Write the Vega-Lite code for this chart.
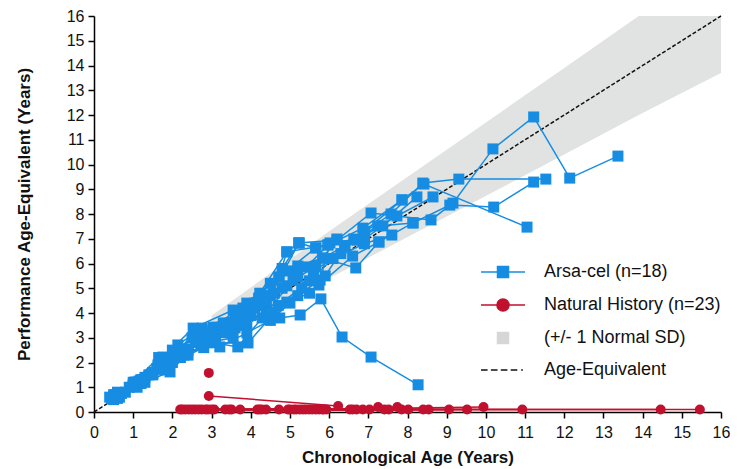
{
  "$schema": "https://vega.github.io/schema/vega-lite/v6.json",
  "width": 627,
  "height": 396,
  "autosize": {"type": "none"},
  "padding": {"left": 94, "top": 16, "right": 35, "bottom": 57},
  "background": "white",
  "config": {"view": {"stroke": null}, "font": "Liberation Sans"},
  "datasets": {
    "band": [
      {"x": 3, "y": 2.9, "hi": 3.9},
      {"x": 6, "y": 5.4, "hi": 7.3},
      {"x": 9, "y": 7.9, "hi": 10.6},
      {"x": 12, "y": 10.4, "hi": 13.9},
      {"x": 13.9, "y": 12.0, "hi": 16},
      {"x": 16, "y": 13.7, "hi": 16}
    ],
    "ref": [{"x": 0, "y": 0}, {"x": 16, "y": 16}],
    "legend": [
      {"series": "Arsa-cel (n=18)"},
      {"series": "Natural History (n=23)"},
      {"series": "(+/- 1 Normal SD)"},
      {"series": "Age-Equivalent"}
    ],
    "nh": [
      {"p": 1, "x": 2.93, "y": 1.58},
      {"p": 2, "x": 2.93, "y": 0.65}, {"p": 2, "x": 6.23, "y": 0.24},
      {"p": 3, "x": 2.25, "y": 0.1}, {"p": 3, "x": 4.72, "y": 0.1}, {"p": 3, "x": 15.46, "y": 0.1},
      {"p": 4, "x": 2.42, "y": 0.1}, {"p": 4, "x": 5.0, "y": 0.1}, {"p": 4, "x": 14.46, "y": 0.1},
      {"p": 5, "x": 2.58, "y": 0.1}, {"p": 5, "x": 5.16, "y": 0.1}, {"p": 5, "x": 10.93, "y": 0.1},
      {"p": 6, "x": 2.75, "y": 0.1}, {"p": 6, "x": 5.33, "y": 0.1}, {"p": 6, "x": 9.94, "y": 0.2},
      {"p": 7, "x": 2.91, "y": 0.1}, {"p": 7, "x": 5.49, "y": 0.1}, {"p": 7, "x": 9.52, "y": 0.1},
      {"p": 8, "x": 3.07, "y": 0.1}, {"p": 8, "x": 5.66, "y": 0.1}, {"p": 8, "x": 9.06, "y": 0.1},
      {"p": 9, "x": 3.35, "y": 0.1}, {"p": 9, "x": 5.82, "y": 0.1}, {"p": 9, "x": 8.54, "y": 0.1},
      {"p": 10, "x": 3.51, "y": 0.1}, {"p": 10, "x": 5.93, "y": 0.1}, {"p": 10, "x": 8.4, "y": 0.1},
      {"p": 11, "x": 3.73, "y": 0.1}, {"p": 11, "x": 6.53, "y": 0.1}, {"p": 11, "x": 8.02, "y": 0.1},
      {"p": 12, "x": 4.17, "y": 0.1}, {"p": 12, "x": 6.7, "y": 0.1}, {"p": 12, "x": 7.85, "y": 0.1},
      {"p": 13, "x": 4.28, "y": 0.1}, {"p": 13, "x": 6.86, "y": 0.1}, {"p": 13, "x": 7.74, "y": 0.2},
      {"p": 14, "x": 4.39, "y": 0.1}, {"p": 14, "x": 7.03, "y": 0.1}, {"p": 14, "x": 7.52, "y": 0.1},
      {"p": 15, "x": 7.25, "y": 0.2}, {"p": 15, "x": 7.41, "y": 0.1},
      {"p": 16, "x": 2.33, "y": 0.1}, {"p": 16, "x": 2.85, "y": 0.1},
      {"p": 17, "x": 2.5, "y": 0.1}, {"p": 17, "x": 3.0, "y": 0.1},
      {"p": 18, "x": 2.67, "y": 0.1}, {"p": 18, "x": 4.95, "y": 0.1},
      {"p": 19, "x": 5.1, "y": 0.1}, {"p": 19, "x": 5.25, "y": 0.1},
      {"p": 20, "x": 5.4, "y": 0.1}, {"p": 20, "x": 5.57, "y": 0.1},
      {"p": 21, "x": 5.74, "y": 0.1}, {"p": 21, "x": 6.6, "y": 0.1},
      {"p": 22, "x": 2.2, "y": 0.1}, {"p": 22, "x": 3.45, "y": 0.1},
      {"p": 23, "x": 4.22, "y": 0.1}, {"p": 23, "x": 5.86, "y": 0.1}
    ],
    "arsa": [
      {"p": 1, "x": 0.5, "y": 0.55}, {"p": 1, "x": 1.0, "y": 1.05}, {"p": 1, "x": 1.6, "y": 1.75}, {"p": 1, "x": 2.3, "y": 2.55}, {"p": 1, "x": 3.04, "y": 3.43}, {"p": 1, "x": 3.9, "y": 4.4}, {"p": 1, "x": 4.72, "y": 5.45}, {"p": 1, "x": 5.66, "y": 6.63}, {"p": 1, "x": 6.63, "y": 6.99}, {"p": 1, "x": 7.58, "y": 8.0}, {"p": 1, "x": 8.39, "y": 9.25}, {"p": 1, "x": 9.31, "y": 9.41}, {"p": 1, "x": 11.53, "y": 9.41},
      {"p": 2, "x": 0.55, "y": 0.7}, {"p": 2, "x": 1.1, "y": 1.2}, {"p": 2, "x": 1.76, "y": 2.22}, {"p": 2, "x": 2.53, "y": 3.39}, {"p": 2, "x": 3.55, "y": 4.12}, {"p": 2, "x": 4.23, "y": 4.8}, {"p": 2, "x": 4.92, "y": 6.47}, {"p": 2, "x": 5.97, "y": 6.75}, {"p": 2, "x": 6.86, "y": 7.43}, {"p": 2, "x": 7.86, "y": 8.57}, {"p": 2, "x": 8.42, "y": 9.21}, {"p": 2, "x": 11.05, "y": 7.47},
      {"p": 3, "x": 0.6, "y": 0.8}, {"p": 3, "x": 1.25, "y": 1.3}, {"p": 3, "x": 2.14, "y": 2.71}, {"p": 3, "x": 2.76, "y": 3.39}, {"p": 3, "x": 3.6, "y": 3.9}, {"p": 3, "x": 4.5, "y": 4.7}, {"p": 3, "x": 5.23, "y": 6.83}, {"p": 3, "x": 6.2, "y": 6.95}, {"p": 3, "x": 7.07, "y": 8.04}, {"p": 3, "x": 8.6, "y": 7.76}, {"p": 3, "x": 9.16, "y": 8.44}, {"p": 3, "x": 10.18, "y": 10.63}, {"p": 3, "x": 11.22, "y": 11.92}, {"p": 3, "x": 12.14, "y": 9.45}, {"p": 3, "x": 13.37, "y": 10.34},
      {"p": 4, "x": 0.65, "y": 0.6}, {"p": 4, "x": 1.3, "y": 1.4}, {"p": 4, "x": 2.0, "y": 2.1}, {"p": 4, "x": 2.9, "y": 3.0}, {"p": 4, "x": 3.7, "y": 3.8}, {"p": 4, "x": 4.6, "y": 4.8}, {"p": 4, "x": 5.43, "y": 5.86}, {"p": 4, "x": 6.4, "y": 6.71}, {"p": 4, "x": 7.24, "y": 7.52}, {"p": 4, "x": 8.14, "y": 7.64}, {"p": 4, "x": 9.08, "y": 8.36}, {"p": 4, "x": 10.2, "y": 8.28}, {"p": 4, "x": 11.22, "y": 9.29},
      {"p": 5, "x": 0.5, "y": 0.5}, {"p": 5, "x": 1.05, "y": 1.21}, {"p": 5, "x": 1.63, "y": 1.9}, {"p": 5, "x": 2.4, "y": 2.5}, {"p": 5, "x": 3.3, "y": 3.2}, {"p": 5, "x": 4.0, "y": 3.9}, {"p": 5, "x": 4.74, "y": 3.8}, {"p": 5, "x": 5.26, "y": 3.92}, {"p": 5, "x": 5.79, "y": 4.57}, {"p": 5, "x": 6.33, "y": 3.03}, {"p": 5, "x": 7.07, "y": 2.22}, {"p": 5, "x": 8.27, "y": 1.1},
      {"p": 6, "x": 0.7, "y": 0.75}, {"p": 6, "x": 1.4, "y": 1.5}, {"p": 6, "x": 2.2, "y": 2.4}, {"p": 6, "x": 3.0, "y": 3.2}, {"p": 6, "x": 3.93, "y": 4.0}, {"p": 6, "x": 4.8, "y": 5.0}, {"p": 6, "x": 5.66, "y": 5.9}, {"p": 6, "x": 6.71, "y": 6.95}, {"p": 6, "x": 7.73, "y": 7.92}, {"p": 6, "x": 8.65, "y": 8.69},
      {"p": 7, "x": 0.9, "y": 1.0}, {"p": 7, "x": 1.5, "y": 1.55}, {"p": 7, "x": 2.3, "y": 2.3}, {"p": 7, "x": 3.1, "y": 2.9}, {"p": 7, "x": 3.9, "y": 3.6}, {"p": 7, "x": 4.7, "y": 4.3}, {"p": 7, "x": 5.5, "y": 5.3}, {"p": 7, "x": 5.84, "y": 6.22}, {"p": 7, "x": 6.68, "y": 5.82}, {"p": 7, "x": 7.27, "y": 6.87}, {"p": 7, "x": 8.14, "y": 7.64},
      {"p": 8, "x": 1.0, "y": 1.1}, {"p": 8, "x": 1.7, "y": 1.9}, {"p": 8, "x": 2.5, "y": 3.0}, {"p": 8, "x": 3.3, "y": 3.6}, {"p": 8, "x": 4.1, "y": 4.2}, {"p": 8, "x": 4.92, "y": 5.1}, {"p": 8, "x": 5.77, "y": 5.33}, {"p": 8, "x": 6.02, "y": 6.83}, {"p": 8, "x": 6.9, "y": 7.0}, {"p": 8, "x": 7.37, "y": 7.52}, {"p": 8, "x": 8.24, "y": 8.69},
      {"p": 9, "x": 0.6, "y": 0.65}, {"p": 9, "x": 1.2, "y": 1.15}, {"p": 9, "x": 1.94, "y": 1.62}, {"p": 9, "x": 2.7, "y": 2.9}, {"p": 9, "x": 3.67, "y": 2.63}, {"p": 9, "x": 4.29, "y": 3.8}, {"p": 9, "x": 5.08, "y": 5.33}, {"p": 9, "x": 5.74, "y": 5.13}, {"p": 9, "x": 6.6, "y": 6.3}, {"p": 9, "x": 7.27, "y": 6.87},
      {"p": 10, "x": 1.5, "y": 1.6}, {"p": 10, "x": 2.2, "y": 2.2}, {"p": 10, "x": 3.0, "y": 2.8}, {"p": 10, "x": 3.93, "y": 2.79}, {"p": 10, "x": 4.6, "y": 4.0}, {"p": 10, "x": 5.3, "y": 5.0}, {"p": 10, "x": 6.1, "y": 6.2}, {"p": 10, "x": 6.9, "y": 6.8}, {"p": 10, "x": 7.6, "y": 7.15},
      {"p": 11, "x": 2.0, "y": 2.5}, {"p": 11, "x": 2.76, "y": 3.1}, {"p": 11, "x": 3.5, "y": 3.6}, {"p": 11, "x": 4.2, "y": 4.6}, {"p": 11, "x": 5.0, "y": 5.7}, {"p": 11, "x": 5.6, "y": 5.7}, {"p": 11, "x": 6.3, "y": 6.4}, {"p": 11, "x": 6.9, "y": 7.3}, {"p": 11, "x": 7.86, "y": 8.57},
      {"p": 12, "x": 0.5, "y": 0.7}, {"p": 12, "x": 1.2, "y": 1.3}, {"p": 12, "x": 1.9, "y": 1.95}, {"p": 12, "x": 2.6, "y": 2.9}, {"p": 12, "x": 3.5, "y": 3.3}, {"p": 12, "x": 4.4, "y": 4.1}, {"p": 12, "x": 4.92, "y": 4.44}, {"p": 12, "x": 5.5, "y": 4.8},
      {"p": 13, "x": 0.8, "y": 0.8}, {"p": 13, "x": 1.5, "y": 1.5}, {"p": 13, "x": 2.2, "y": 2.2}, {"p": 13, "x": 2.9, "y": 2.8}, {"p": 13, "x": 3.55, "y": 3.0}, {"p": 13, "x": 4.1, "y": 4.4}, {"p": 13, "x": 4.8, "y": 5.8}, {"p": 13, "x": 5.23, "y": 6.83}, {"p": 13, "x": 5.66, "y": 6.63},
      {"p": 14, "x": 0.45, "y": 0.55}, {"p": 14, "x": 1.1, "y": 1.0}, {"p": 14, "x": 1.8, "y": 1.7}, {"p": 14, "x": 2.4, "y": 2.3}, {"p": 14, "x": 3.1, "y": 2.9}, {"p": 14, "x": 3.8, "y": 3.5}, {"p": 14, "x": 4.5, "y": 4.0}, {"p": 14, "x": 5.2, "y": 4.7}, {"p": 14, "x": 5.9, "y": 5.5}, {"p": 14, "x": 6.4, "y": 6.71},
      {"p": 15, "x": 0.55, "y": 0.65}, {"p": 15, "x": 1.15, "y": 1.25}, {"p": 15, "x": 1.9, "y": 2.0}, {"p": 15, "x": 2.6, "y": 3.3}, {"p": 15, "x": 3.4, "y": 3.5}, {"p": 15, "x": 4.2, "y": 4.3}, {"p": 15, "x": 4.72, "y": 5.45}, {"p": 15, "x": 4.92, "y": 6.47}, {"p": 15, "x": 5.23, "y": 6.83},
      {"p": 16, "x": 0.6, "y": 0.55}, {"p": 16, "x": 1.3, "y": 1.2}, {"p": 16, "x": 2.0, "y": 2.0}, {"p": 16, "x": 2.8, "y": 2.6}, {"p": 16, "x": 3.6, "y": 3.4}, {"p": 16, "x": 4.4, "y": 4.5}, {"p": 16, "x": 5.2, "y": 5.5}, {"p": 16, "x": 5.97, "y": 6.75}, {"p": 16, "x": 6.71, "y": 6.95},
      {"p": 17, "x": 1.2, "y": 1.3}, {"p": 17, "x": 1.9, "y": 2.1}, {"p": 17, "x": 2.7, "y": 2.8}, {"p": 17, "x": 3.21, "y": 2.63}, {"p": 17, "x": 3.9, "y": 3.2}, {"p": 17, "x": 4.5, "y": 3.7}, {"p": 17, "x": 5.0, "y": 4.4},
      {"p": 18, "x": 0.4, "y": 0.6}, {"p": 18, "x": 1.0, "y": 1.2}, {"p": 18, "x": 1.65, "y": 2.2}, {"p": 18, "x": 2.3, "y": 2.5}, {"p": 18, "x": 3.0, "y": 3.1}, {"p": 18, "x": 3.8, "y": 4.2}, {"p": 18, "x": 4.5, "y": 5.2}, {"p": 18, "x": 5.2, "y": 5.9}, {"p": 18, "x": 5.84, "y": 6.22}, {"p": 18, "x": 6.2, "y": 6.99}
    ]
  },
  "encoding": {
    "x": {"field": "x", "type": "quantitative", "scale": {"domain": [0, 16], "nice": false, "zero": false},
      "axis": {"values": [0,1,2,3,4,5,6,7,8,9,10,11,12,13,14,15,16], "tickCount": 40, "format": "d", "title": "Chronological Age (Years)", "grid": false,
        "labelOverlap": false, "domainColor": "#000", "domainWidth": 1.5, "tickColor": "#000", "tickWidth": 1.5, "tickSize": 6,
        "labelFontSize": 16, "labelColor": "#111", "labelPadding": 6, "labelFont": "Liberation Sans", "labelFlush": false,
        "titleFontSize": 17, "titleFontWeight": "bold", "titleColor": "#111", "titlePadding": 9, "titleFont": "Liberation Sans"}},
    "y": {"field": "y", "type": "quantitative", "scale": {"domain": [0, 16], "nice": false},
      "axis": {"values": [0,1,2,3,4,5,6,7,8,9,10,11,12,13,14,15,16], "tickCount": 40, "format": "d", "title": "Performance Age-Equivalent (Years)", "grid": false,
        "labelOverlap": false, "domainColor": "#000", "domainWidth": 1.5, "tickColor": "#000", "tickWidth": 1.5, "tickSize": 6,
        "labelFontSize": 16, "labelColor": "#111", "labelPadding": 4, "labelFont": "Liberation Sans", "labelFlush": false,
        "titleFontSize": 17, "titleFontWeight": "bold", "titleColor": "#111", "titlePadding": 33, "titleFont": "Liberation Sans"}}
  },
  "layer": [
    {
      "data": {"name": "band"},
      "mark": {"type": "area", "color": "#e1e2e2", "opacity": 1},
      "encoding": {
        "y2": {"field": "hi"}
      }
    },
    {
      "data": {"name": "ref"},
      "mark": {"type": "line", "color": "#111", "strokeDash": [4, 2], "strokeWidth": 1.5},
      "encoding": {}
    },
    {
      "data": {"name": "nh"},
      "mark": {"type": "line", "color": "#c1112f", "strokeWidth": 1.5},
      "encoding": {
        "detail": {"field": "p", "type": "nominal"}
      }
    },
    {
      "data": {"name": "nh"},
      "mark": {"type": "point", "shape": "circle", "filled": true, "size": 100, "color": "#c1112f", "opacity": 1},
      "encoding": {}
    },
    {
      "data": {"name": "arsa"},
      "mark": {"type": "line", "color": "#168de2", "strokeWidth": 1.5},
      "encoding": {
        "detail": {"field": "p", "type": "nominal"}
      }
    },
    {
      "data": {"name": "arsa"},
      "mark": {"type": "point", "shape": "square", "filled": true, "size": 121, "color": "#168de2", "opacity": 1},
      "encoding": {}
    },
    {
      "data": {"name": "legend"},
      "mark": {"type": "point", "filled": true, "opacity": 0},
      "encoding": {
        "color": {"field": "series", "type": "nominal",
          "scale": {"domain": ["Arsa-cel (n=18)", "Natural History (n=23)", "(+/- 1 Normal SD)", "Age-Equivalent"],
                    "range": ["#168de2", "#c1112f", "#d6d6d6", "#111111"]},
          "legend": {"title": null, "orient": "none", "legendX": 400, "legendY": 247, "symbolSize": 121, "symbolOpacity": 1,
            "symbolStrokeWidth": 1.5, "labelFontSize": 18, "labelFont": "Liberation Sans", "labelColor": "#111", "labelOffset": 32,
            "rowPadding": 14, "labelLimit": 400,
            "encode": {"symbols": {"update": {"stroke": {"scale": "color", "field": "value"}, "strokeWidth": {"value": 1.5}, "opacity": {"value": 1}}}}}},
        "shape": {"field": "series", "type": "nominal",
          "scale": {"domain": ["Arsa-cel (n=18)", "Natural History (n=23)", "(+/- 1 Normal SD)", "Age-Equivalent"],
                    "range": ["M-4,0H4M-1,-1H1V1H-1Z", "M-4,0H4M1.1,0A1.1,1.1 0 1,1 -1.1,0A1.1,1.1 0 1,1 1.1,0Z", "M-1,-1H1V1H-1Z", "M-4,0H-2.8M-2.2,0H-1M-0.4,0H0.8M1.4,0H2.6M3.3,0H3.6"]},
          "legend": {"title": null, "orient": "none", "legendX": 400, "legendY": 247, "symbolSize": 121, "symbolOpacity": 1,
            "symbolStrokeWidth": 1.5, "labelFontSize": 18, "labelFont": "Liberation Sans", "labelColor": "#111", "labelOffset": 32,
            "rowPadding": 14, "labelLimit": 400,
            "encode": {"symbols": {"update": {"stroke": {"scale": "color", "field": "value"}, "strokeWidth": {"value": 1.5}, "opacity": {"value": 1}}}}}}
      }
    }
  ]
}
